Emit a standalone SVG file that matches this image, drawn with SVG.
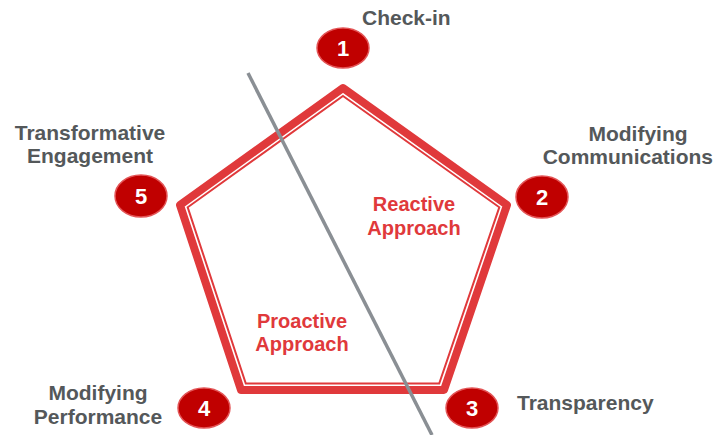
<svg xmlns="http://www.w3.org/2000/svg" width="717" height="435" viewBox="0 0 717 435">
<style>
.lbl{font-family:"Liberation Sans",Arial,sans-serif;font-weight:bold;font-size:21px;fill:#54585A;}
.red{font-family:"Liberation Sans",Arial,sans-serif;font-weight:bold;font-size:20px;fill:#E0393B;text-anchor:middle;}
.badge ellipse{fill:#C00000;stroke:#E35557;stroke-width:1.5;}
.num{font-family:"Liberation Sans",Arial,sans-serif;font-weight:bold;font-size:22px;fill:#FFFFFF;text-anchor:middle;}
</style>
<rect width="717" height="435" fill="#FFFFFF"/>
<g id="pentagon">
<polygon points="343,88 507,205 444,390 241,390 180,205" fill="none" stroke="#E0393B" stroke-width="8" stroke-linejoin="round"/>
<polygon points="343,96 499.3,207.3 439.2,383.6 245.8,383.6 187.7,207.3" fill="none" stroke="#E0393B" stroke-width="2"/>
</g>
<g id="connectors">
<line x1="248" y1="73" x2="432" y2="435" stroke="#8A8F94" stroke-width="3.5"/>
</g>
<g id="area-labels">
<text class="red" x="414" y="211">Reactive</text>
<text class="red" x="414" y="235">Approach</text>
<text class="red" x="302" y="328">Proactive</text>
<text class="red" x="302" y="351">Approach</text>
</g>
<g id="node1" class="badge">
<ellipse cx="343" cy="48" rx="26" ry="20"/>
<text class="num" x="343" y="56">1</text>
<text class="lbl" x="362" y="25">Check-in</text>
</g>
<g id="node2" class="badge">
<ellipse cx="542" cy="197" rx="26" ry="21"/>
<text class="num" x="542" y="205">2</text>
<text class="lbl" x="638" y="141" text-anchor="middle">Modifying</text>
<text class="lbl" x="713" y="164" text-anchor="end">Communications</text>
</g>
<g id="node3" class="badge">
<ellipse cx="472" cy="408" rx="26" ry="20"/>
<text class="num" x="472" y="416">3</text>
<text class="lbl" x="517" y="410">Transparency</text>
</g>
<g id="node4" class="badge">
<ellipse cx="204" cy="408" rx="26" ry="20"/>
<text class="num" x="204" y="416">4</text>
<text class="lbl" x="98" y="400" text-anchor="middle">Modifying</text>
<text class="lbl" x="98" y="424" text-anchor="middle">Performance</text>
</g>
<g id="node5" class="badge">
<ellipse cx="141" cy="196" rx="26" ry="21"/>
<text class="num" x="141" y="204">5</text>
<text class="lbl" x="90" y="140" text-anchor="middle">Transformative</text>
<text class="lbl" x="90" y="163" text-anchor="middle">Engagement</text>
</g>
</svg>
